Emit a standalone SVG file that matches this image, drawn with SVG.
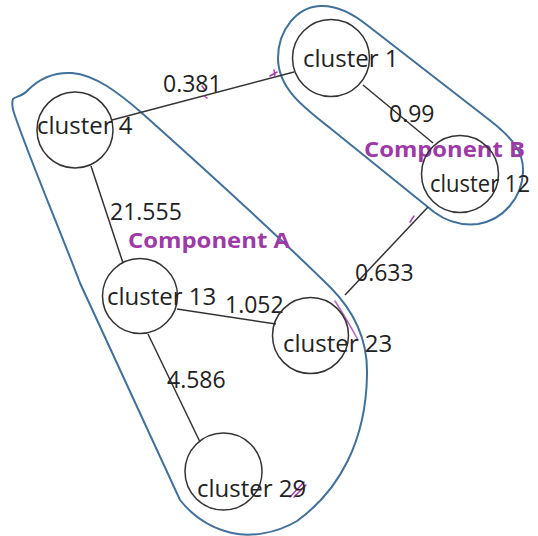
<svg xmlns="http://www.w3.org/2000/svg" width="538" height="536" viewBox="0 0 538 536">
  <style>
    .hull { fill: none; stroke: #41709a; stroke-width: 2; }
    .edge { stroke: #333; stroke-width: 1.5; fill: none; }
    .node circle { fill: none; stroke: #333; stroke-width: 1.5; }
    .label { font-family: "Open Sans", "Noto Sans", sans-serif; font-size: 24px; fill: #222; }
    .weight { font-family: "Open Sans", "Noto Sans", sans-serif; font-size: 23px; fill: #222; }
    .comp { font-family: "Open Sans", "Noto Sans", sans-serif; font-size: 22px; font-weight: bold; fill: #9d3aa6; }
    .tick { fill: none; stroke: #a040b0; stroke-width: 1.5; stroke-linecap: round; }
  </style>
  <rect width="538" height="536" fill="#fff"/>

  <!-- component outlines -->
  <g id="hulls">
    <path id="hull-a" class="hull" d="M 13,99 C 16,96 22,97 28,90 C 40,78 55,72 72,73 C 95,75 118,92 143,114 C 200,165 270,228 330,287 C 355,312 368,340 367,375 C 366,440 340,490 297,521 C 275,534 250,537 232,533 C 210,528 192,515 180,500 L 80,283 C 60,230 30,160 14,113 C 12,107 12,102 13,99 Z"/>
    <path id="hull-b" class="hull" d="M 278,58 C 278,30 297,7 320,6 C 337,5 352,13 367,25 L 492,122 C 512,138 524,152 523,172 C 522,198 503,220 478,224 C 460,226 446,221 434,212 L 330,128 C 303,107 278,88 278,58 Z"/>
  </g>

  <!-- connectors -->
  <g id="edges">
    <line class="edge" x1="112" y1="120" x2="294" y2="72"/>
    <line class="edge" x1="363" y1="85" x2="433" y2="143"/>
    <line class="edge" x1="428" y1="207" x2="345" y2="295"/>
    <line class="edge" x1="91" y1="166" x2="123" y2="263"/>
    <line class="edge" x1="177" y1="309" x2="276" y2="324"/>
    <line class="edge" x1="148" y1="334" x2="200" y2="442"/>
    <path class="tick" d="M 270,76 L 277,72 M 274,70 L 275,76"/>
    <path class="tick" d="M 202,86 L 205,90 M 204,96 L 207,98"/>
    <path class="tick" d="M 410,222 L 414,216"/>
    <path class="tick" stroke-width="2" opacity="0.8" d="M 335,301 C 342,312 350,325 358,340"/>
    <path class="tick" stroke-width="2" d="M 290,497 L 304,482 M 294,497 L 306,485"/>
  </g>

  <!-- edge weights -->
  <g id="weights">
    <text class="weight" x="163" y="92">0.381</text>
    <text class="weight" x="389" y="122">0.99</text>
    <text class="weight" x="110" y="220">21.555</text>
    <text class="weight" x="355" y="281">0.633</text>
    <text class="weight" x="225" y="313">1.052</text>
    <text class="weight" x="167" y="388">4.586</text>
  </g>

  <!-- component names -->
  <g id="components">
    <text class="comp" x="128" y="248" textLength="162" lengthAdjust="spacingAndGlyphs">Component A</text>
    <text class="comp" x="364" y="157" textLength="161" lengthAdjust="spacingAndGlyphs">Component B</text>
  </g>

  <!-- nodes -->
  <g id="cluster-1" class="node">
    <circle cx="331" cy="58" r="38.5"/>
    <text class="label" x="303" y="67">cluster 1</text>
  </g>
  <g id="cluster-4" class="node">
    <circle cx="75" cy="130" r="38"/>
    <text class="label" x="37" y="134">cluster 4</text>
  </g>
  <g id="cluster-12" class="node">
    <circle cx="460" cy="174" r="38.5"/>
    <text class="label" x="430" y="192" textLength="100" lengthAdjust="spacingAndGlyphs">cluster 12</text>
  </g>
  <g id="cluster-13" class="node">
    <circle cx="140" cy="296" r="37.5"/>
    <text class="label" x="107" y="305">cluster 13</text>
  </g>
  <g id="cluster-23" class="node">
    <circle cx="310.5" cy="335.5" r="38"/>
    <text class="label" x="283" y="352">cluster 23</text>
  </g>
  <g id="cluster-29" class="node">
    <circle cx="223.5" cy="471.5" r="38.5"/>
    <text class="label" x="197" y="497">cluster 29</text>
  </g>
</svg>
